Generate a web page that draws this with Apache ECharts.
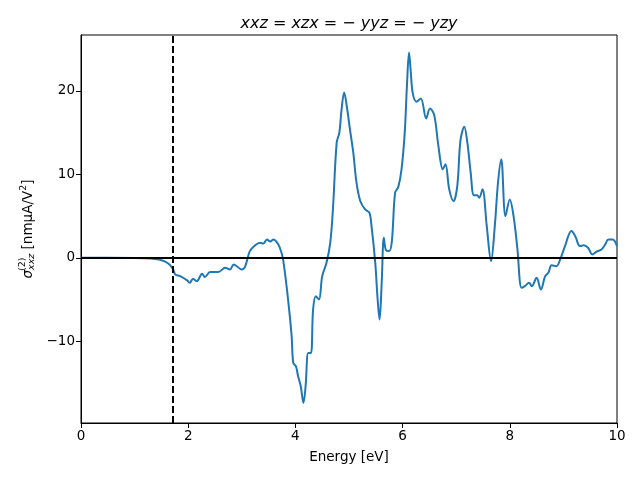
<!DOCTYPE html>
<html><head><meta charset="utf-8">
<script src="https://cdn.jsdelivr.net/npm/echarts@6/dist/echarts.min.js"></script>
<style>html,body{margin:0;padding:0;background:#fff}#c{width:640px;height:480px}</style>
</head><body><div id="c"></div>
<script>
const energy = [0,0.5,1.0,1.3,1.45,1.55,1.65,1.72,1.76,1.85,1.98,2.03,2.09,2.16,2.26,2.31,2.41,2.56,2.69,2.78,2.85,3.0,3.06,3.15,3.25,3.34,3.4,3.47,3.53,3.59,3.65,3.71,3.77,3.87,3.93,3.96,4.01,4.05,4.10,4.15,4.19,4.24,4.29,4.33,4.38,4.44,4.50,4.58,4.65,4.70,4.77,4.82,4.86,4.91,4.96,5.02,5.08,5.14,5.21,5.30,5.38,5.42,5.49,5.53,5.57,5.61,5.65,5.69,5.75,5.80,5.86,5.92,5.98,6.04,6.08,6.12,6.15,6.19,6.26,6.34,6.44,6.51,6.59,6.67,6.75,6.80,6.87,6.95,7.02,7.08,7.15,7.21,7.27,7.33,7.39,7.43,7.49,7.57,7.65,7.72,7.78,7.84,7.92,8.00,8.07,8.14,8.22,8.28,8.36,8.41,8.50,8.58,8.66,8.72,8.78,8.87,8.94,9.03,9.15,9.22,9.31,9.38,9.46,9.54,9.62,9.71,9.78,9.84,9.92,10.0];
const sigma = [0,0,-0.02,-0.08,-0.2,-0.4,-0.8,-1.4,-2.0,-2.2,-2.7,-3.0,-2.5,-2.8,-1.9,-2.3,-1.7,-1.7,-1.2,-1.4,-0.8,-1.4,-1.1,0.8,1.5,1.8,1.7,2.2,1.95,2.2,1.9,1.2,-0.2,-5.4,-9.4,-12.6,-13.0,-14.2,-15.4,-17.4,-15.4,-11.4,-11.4,-6.2,-4.6,-5.0,-2.2,-0.6,1.8,5.8,13.8,15.0,17.7,19.8,18.1,15.3,12.6,9.0,6.8,5.8,5.4,3.8,-0.6,-4.6,-7.4,-3.0,2.4,0.9,0.8,2.0,7.8,8.5,10.6,15.0,20.5,24.6,22.5,19.7,18.7,19.1,16.7,17.9,17.1,13.3,10.6,11.2,8.2,6.8,8.6,14.1,15.7,13.7,10.2,7.5,7.5,7.2,8.2,3.8,-0.4,3.8,9.0,11.8,5.0,7.0,5.0,1.2,-3.6,-3.4,-3.0,-3.4,-2.4,-3.8,-2.2,-1.8,-0.9,-1.0,-0.2,1.4,3.2,2.6,1.4,1.5,1.2,0.4,0.75,1.0,1.6,2.2,2.2,1.4];
const xTicks = [0,2,4,6,8,10];
const yTicks = [-10,0,10,20];
const gapEnergy = 1.72;
const titleText = '{i|xxz} = {i|xzx} = − {i|yyz} = − {i|yzy}';
const yLabelMain = '{s|σ}{sub|xxz} [nmμA/V{sup|2}]';
const yLabelSup = '(2)';
const xLabel = 'Energy [eV]';

const chart = echarts.init(document.getElementById('c'), null, {renderer:'canvas'});
const fmt = v => (v < 0 ? '\u2212' + Math.abs(v) : String(v));
const FONT = 'DejaVu Sans';
chart.setOption({
  animation: false,
  title: {
    text: titleText, left: 344, top: 11, textAlign: 'center',
    textStyle: {
      fontFamily: FONT, fontSize: 16, fontWeight: 'normal', color: '#000',
      rich: { i: { fontFamily: FONT, fontStyle: 'italic', fontSize: 16, color: '#000' } }
    }
  },
  graphic: [{
    type: 'group', x: 28, y: 229, rotation: Math.PI / 2,
    children: [
      {
        type: 'text', x: 0, y: 0,
        style: {
          text: yLabelMain, align: 'center', verticalAlign: 'middle',
          fontFamily: FONT, fontSize: 13.5, fill: '#000',
          rich: {
            s: { fontFamily: FONT, fontStyle: 'italic', fontSize: 13.5, fill: '#000' },
            sub: { fontFamily: FONT, fontStyle: 'italic', fontSize: 9.5, fill: '#000', padding: [7, 0, 0, 0] },
            sup: { fontFamily: FONT, fontSize: 9.5, fill: '#000', padding: [0, 0, 8, 0] }
          }
        }
      },
      {
        type: 'text', x: -42, y: 0,
        style: { text: yLabelSup, align: 'left', verticalAlign: 'bottom', fontFamily: FONT, fontSize: 9.5, fill: '#000' }
      }
    ]
  }],
  grid: { left: 81, right: 23, top: 35, bottom: 57, show: true, borderColor: '#000', borderWidth: 1, backgroundColor: 'transparent' },
  xAxis: {
    type: 'value', min: 0, max: 10, interval: 2,
    name: xLabel, nameLocation: 'middle', nameGap: 27,
    nameTextStyle: { fontFamily: FONT, fontSize: 13.5, color: '#000' },
    axisLine: { show: true, onZero: false, lineStyle: { color: '#000', width: 1 } },
    axisTick: { show: true, length: 5, lineStyle: { color: '#000' }, customValues: xTicks },
    axisLabel: { fontFamily: FONT, fontSize: 13.5, color: '#000', margin: 6, customValues: xTicks, formatter: fmt },
    splitLine: { show: false }
  },
  yAxis: {
    type: 'value', min: -19.8, max: 26.7,
    axisLine: { show: true, onZero: false, lineStyle: { color: '#000', width: 1 } },
    axisTick: { show: true, length: 5, lineStyle: { color: '#000' }, customValues: yTicks },
    axisLabel: { fontFamily: FONT, fontSize: 13.5, color: '#000', margin: 6, customValues: yTicks, formatter: fmt },
    splitLine: { show: false }
  },
  series: [
    {
      type: 'line', data: [], z: 1, silent: true,
      markLine: {
        symbol: 'none', silent: true, animation: false, label: { show: false },
        data: [
          { yAxis: 0, lineStyle: { color: '#000', width: 2, type: 'solid' } },
          { xAxis: gapEnergy, lineStyle: { color: '#000', width: 2, type: [7, 3] } }
        ]
      }
    },
    {
      type: 'line', z: 3, showSymbol: false, smooth: 0.35,
      data: energy.map((e, i) => [e, sigma[i]]),
      lineStyle: { color: '#1f77b4', width: 2 },
      itemStyle: { color: '#1f77b4' }
    }
  ]
});
</script>
</body></html>
